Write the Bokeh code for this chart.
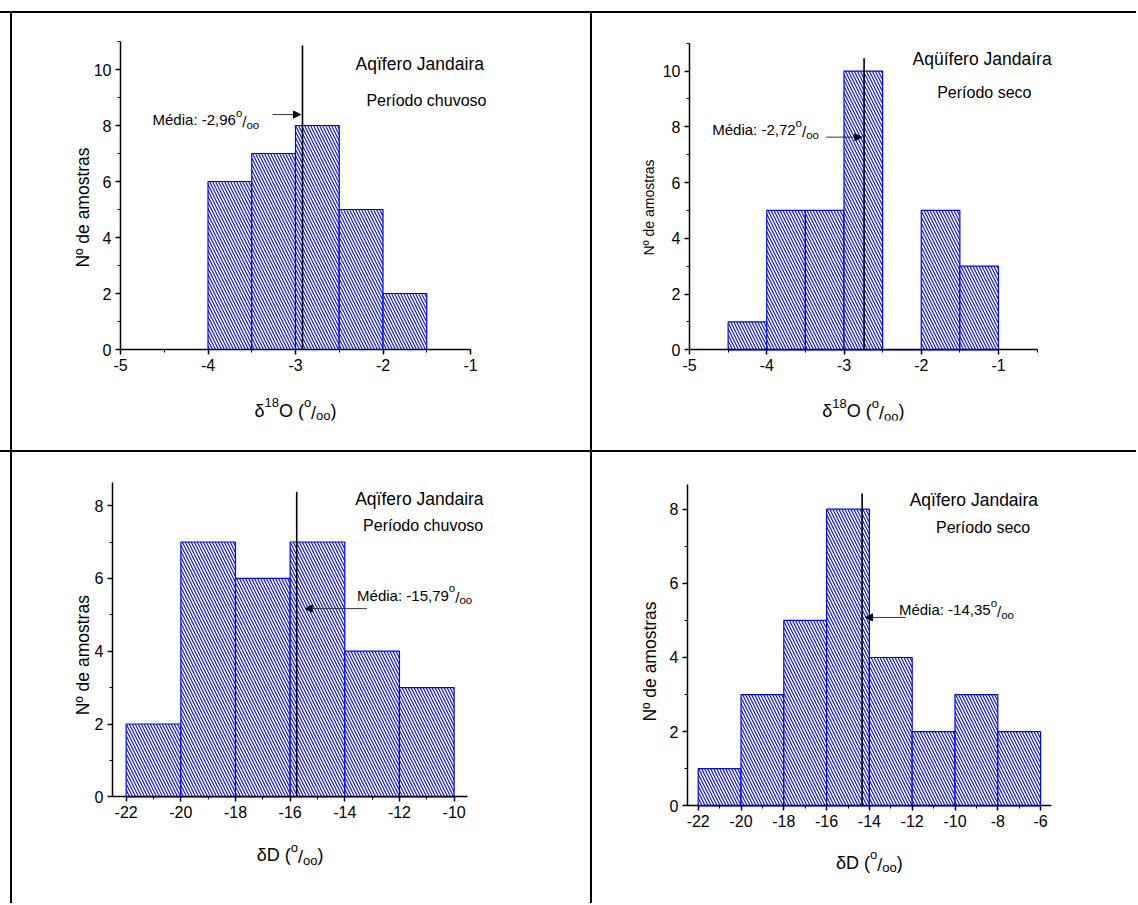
import math
from bokeh.plotting import figure
from bokeh.models import (Range1d, SingleIntervalTicker, Label, Arrow, NormalHead, Spacer,
                          PrintfTickFormatter)
from bokeh.layouts import column, row
from bokeh.embed import file_html
from bokeh.resources import INLINE

FONT = "Liberation Sans"

# ---------------- data ----------------
o18_rain_edges = [-4.0, -3.5, -3.0, -2.5, -2.0, -1.5]
o18_rain_counts = [6, 7, 8, 5, 2]
o18_dry_edges = [-4.5, -4.0, -3.5, -3.0, -2.5, -2.0, -1.5, -1.0]
o18_dry_counts = [1, 5, 5, 10, 0, 5, 3]
dD_rain_edges = [-22, -20, -18, -16, -14, -12, -10]
dD_rain_counts = [2, 7, 6, 7, 4, 3]
dD_dry_edges = [-22, -20, -18, -16, -14, -12, -10, -8, -6]
dD_dry_counts = [1, 3, 5, 8, 4, 2, 3, 2]
mean_positions = [-2.92, -2.74, -15.76, -14.34]
mean_labels = ["-2,96", "-2,72", "-15,79", "-14,35"]
aquifer_titles = ["Aqïfero Jandaira", "Aqüífero Jandaíra", "Aqïfero Jandaira", "Aqïfero Jandaira"]
period_titles = ["Período chuvoso", "Período seco", "Período chuvoso", "Período seco"]
y_title = "Nº de amostras"

# ---------------- layout / styling ----------------
# ax, ay: axis-corner pixel position inside the figure; ux, uy: pixels per data unit
# ylab: centre of the vertical y title (figure pixels)
specs = [
    dict(w=578, h=437, ax=108, ay=336.0, ux=87.5, uy=28.0, xb=(-5, -1), yb=(0, 11), xint=1,
         ylsize=17.5, ylab=(70, 194), title=(-2.314, 10.2), period=(-2.19, 8.89), media=(-4.634, 8.2),
         mtop=10.86, arrow=(-3.263, -2.943, 8.39), xl_dy=61, xkind="O"),
    dict(w=544, h=437, ax=97, ay=336.3, ux=77.25, uy=27.87, xb=(-5, -0.5), yb=(0, 11), xint=1,
         ylsize=14, ylab=(56, 194), title=(-2.113, 10.44), period=(-1.794, 9.24), media=(-4.706, 7.89),
         mtop=10.46, arrow=(-3.23, -2.77, 7.63), xl_dy=61.4, xkind="O"),
    dict(w=578, h=451, ax=100, ay=344.3, ux=27.33, uy=36.4, xb=(-22.5, -9.5), yb=(0, 8.63), xint=2,
         ylsize=17.5, ylab=(70.7, 202.7), title=(-13.62, 8.18), period=(-13.33, 7.45), media=(-13.55, 5.54),
         mtop=8.38, arrow=(-13.19, -15.45, 5.17), xl_dy=58.4, xkind="D"),
    dict(w=544, h=451, ax=95, ay=353.3, ux=21.4, uy=37.08, xb=(-22.5, -5.5), yb=(0, 8.66), xint=2,
         ylsize=17.5, ylab=(57.7, 209), title=(-12.12, 8.24), period=(-10.89, 7.5), media=(-12.62, 5.29),
         mtop=8.42, arrow=(-12.31, -14.18, 5.08), xl_dy=57, xkind="D"),
]
MB = 30   # space reserved below the frame (x-axis panel)
ML = 40   # space reserved left of the frame (y-axis panel)

# Arial-like advance widths (em)
CW = {" ": .278, "(": .333, ")": .333, "/": .278, ",": .278, "-": .333, ":": .278, ".": .278,
      "M": .833, "é": .556, "d": .556, "i": .222, "a": .556, "o": .556, "O": .778, "D": .722,
      "δ": .556}


def text_w(t, size):
    return sum(CW.get(c, .556) for c in t) * size


def rich(p, x, y, pieces, py, center=False):
    widths = [text_w(t, s) for t, s, _ in pieces]
    off = -sum(widths) / 2 if center else 0
    for (t, s, dy), wd in zip(pieces, widths):
        p.add_layout(Label(x=x, y=y + dy / py, x_offset=off, text=t, text_font=FONT,
                           text_font_size=f"{s}px", text_baseline="alphabetic",
                           text_align="left", text_color="black"))
        off += wd


def make_panel(sp, edges, counts, mean, mean_lbl, title, period):
    xa = sp["xb"][0]
    x0 = xa - (sp["ax"] - ML) / sp["ux"]
    x1 = xa + (sp["w"] - sp["ax"]) / sp["ux"]
    y1 = sp["ay"] / sp["uy"]
    y0 = -(sp["h"] - MB - sp["ay"]) / sp["uy"]
    p = figure(width=sp["w"], height=sp["h"], x_range=Range1d(x0, x1), y_range=Range1d(y0, y1),
               output_backend="svg", toolbar_location=None,
               min_border_left=ML, min_border_right=0,
               min_border_top=0, min_border_bottom=MB)
    p.styles = {"background-color": "white"}
    p.xgrid.visible = False
    p.ygrid.visible = False
    p.outline_line_color = None
    p.background_fill_color = "white"
    p.border_fill_color = "white"

    p.quad(left=edges[:-1], right=edges[1:], bottom=0, top=counts,
           fill_color="white", line_color="#0000ff", line_width=1.2,
           hatch_pattern="\\", hatch_color="#0000ff", hatch_scale=6, hatch_weight=1.1)
    p.segment(x0=[mean], y0=[0], x1=[mean], y1=[sp["mtop"]], line_color="black", line_width=1.6)

    xs, xe, ya = sp["arrow"]
    p.add_layout(Arrow(end=NormalHead(size=7, fill_color="black", line_color="black"),
                       x_start=xs, y_start=ya, x_end=xe, y_end=ya,
                       line_color="#333333", line_width=1))

    for ax in (p.xaxis[0], p.yaxis[0]):
        ax.axis_line_width = 1.5
        ax.axis_line_color = "black"
        ax.major_tick_line_width = 1.5
        ax.major_tick_out = 5
        ax.major_tick_in = 0
        ax.minor_tick_line_width = 1
        ax.minor_tick_out = 3
        ax.minor_tick_in = 0
        ax.major_label_text_font = FONT
        ax.major_label_text_font_size = "16px"
        ax.major_label_text_color = "black"
        ax.major_label_standoff = 4
        ax.formatter = PrintfTickFormatter(format="%d")
    p.xaxis.ticker = SingleIntervalTicker(interval=sp["xint"], num_minor_ticks=2)
    p.yaxis.ticker = SingleIntervalTicker(interval=2, num_minor_ticks=2)
    p.xaxis.bounds = sp["xb"]
    p.yaxis.bounds = sp["yb"]
    p.xaxis.fixed_location = 0
    p.yaxis.fixed_location = xa

    py = sp["uy"]

    # vertical y title
    lx, ly = sp["ylab"]
    p.add_layout(Label(x=xa - (sp["ax"] - lx) / sp["ux"], y=(sp["ay"] - ly) / py, text=y_title,
                       angle=math.pi / 2, text_align="center", text_baseline="middle",
                       text_font=FONT, text_font_size=f"{sp['ylsize']}px", text_color="black"))

    p.add_layout(Label(x=sp["title"][0], y=sp["title"][1], text=title, text_font=FONT,
                       text_font_size="17.5px", text_baseline="alphabetic", text_color="black"))
    p.add_layout(Label(x=sp["period"][0], y=sp["period"][1], text=period, text_font=FONT,
                       text_font_size="16px", text_baseline="alphabetic", text_color="black"))

    mx, my = sp["media"]
    rich(p, mx, my, [("Média: " + mean_lbl, 15, 0), ("o", 11.5, 7), ("/", 15, -2), ("oo", 11.5, -5)], py)

    xc = (sp["xb"][0] + sp["xb"][1]) / 2
    yb = -sp["xl_dy"] / py
    if sp["xkind"] == "O":
        pieces = [("δ", 18, 0), ("18", 13, 8), ("O (", 18, 0), ("o", 13, 8), ("/", 18, -2),
                  ("oo", 13, -5), (")", 18, 0)]
    else:
        pieces = [("δD (", 18, 0), ("o", 13, 8), ("/", 18, -2), ("oo", 13, -5), (")", 18, 0)]
    rich(p, xc, yb, pieces, py, center=True)
    return p


datasets = [(o18_rain_edges, o18_rain_counts), (o18_dry_edges, o18_dry_counts),
            (dD_rain_edges, dD_rain_counts), (dD_dry_edges, dD_dry_counts)]
panels = [make_panel(specs[i], datasets[i][0], datasets[i][1], mean_positions[i], mean_labels[i],
                     aquifer_titles[i], period_titles[i]) for i in range(4)]

white = {"background-color": "white"}
top = Spacer(width=1136, height=11, styles=white)
r1 = row(Spacer(width=10, height=437, styles=white), panels[0], panels[1], spacing=2)
r2 = row(Spacer(width=10, height=451, styles=white), panels[2], panels[3], spacing=2)
layout = column(top, r1, r2, spacing=2, styles={"background-color": "black"})

open("out.html", "w").write(file_html(layout, INLINE, title="Aquifero Jandaira"))
